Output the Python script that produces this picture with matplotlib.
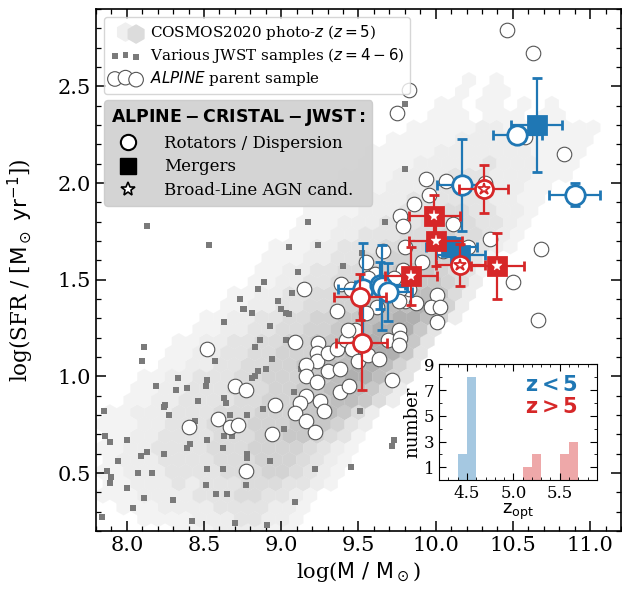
import numpy as np
import matplotlib.pyplot as plt
from matplotlib.lines import Line2D
from matplotlib.ticker import MultipleLocator

plt.rcParams['font.family'] = 'DejaVu Serif'
plt.rcParams['mathtext.fontset'] = 'dejavusans'

# COSMOS2020 density, one entry per half-row of the hex lattice:
# (row, first column, grey level of each cell; 0 = empty)
hex_rows = [
    (0, 6, '111222211'),
    (1, 3, '111122233221'),
    (2, 2, '11122223333221'),
    (3, 0, '1112222333443321'),
    (4, 1, '11222323334443321'),
    (5, 0, '112223333444554321'),
    (6, 1, '122233334445554321'),
    (7, 0, '1122333344455554321'),
    (8, 1, '1122333344455665431'),
    (9, 0, '11122333444555666532'),
    (10, 1, '11222333444555667642'),
    (11, 2, '11223333445556677642'),
    (12, 3, '11223334445566777642'),
    (13, 3, '11223334455566788753'),
    (14, 5, '1122334455667788753'),
    (15, 5, '1122334455566788863'),
    (16, 6, '1122334455667788863'),
    (17, 7, '112233445566788863'),
    (18, 8, '1122334455667788752'),
    (19, 9, '112233445566778752'),
    (20, 10, '112233445566777642'),
    (21, 11, '11223344556666542'),
    (22, 12, '11223344556665431'),
    (23, 12, '11122334455555431'),
    (24, 13, '111223334455554321'),
    (25, 14, '11122333444544321'),
    (26, 15, '11122233344443321'),
    (27, 15, '11112223334433221'),
    (28, 16, '11112223333332211'),
    (29, 17, '1111222333322211'),
    (30, 18, '11112222333222111'),
    (31, 19, '1111222223222111'),
    (32, 20, '1111122222221111'),
    (33, 21, '111112222111111'),
    (34, 23, '11111221101111'),
    (35, 24, '1110111011'),
    (36, 25, '110110101'),
    (37, 26, '1011'),
    (38, 27, '101'),
]

# various JWST samples (z = 4-6)
jwst_mass = [9.11, 9.40, 8.89, 8.85, 9.07, 8.73, 8.98, 8.75, 8.76, 9.00, 9.03, 9.05,
             8.81, 8.63, 8.93, 8.86, 8.83, 9.03, 8.11, 8.10, 8.57, 8.94, 8.90, 8.85,
             8.83, 8.81, 8.33, 8.52, 8.51, 8.19, 8.32, 8.39, 8.71, 8.63, 8.46, 8.64,
             9.08, 9.13, 8.25, 8.24, 8.88, 8.78, 8.67, 8.44, 8.27, 9.02, 7.85, 8.68,
             8.63, 8.41, 8.52, 8.00, 7.86, 7.89, 8.13, 8.24, 8.39, 8.09, 8.62, 8.78,
             8.78, 8.62, 8.52, 8.93, 7.94, 8.07, 8.16, 7.87, 7.90, 7.89, 8.00, 8.51,
             8.77, 8.58, 8.65, 8.11, 8.30, 8.04, 9.09, 9.22, 9.45, 9.72, 9.73, 9.51,
             8.70, 8.91, 8.42, 7.84, 8.13, 8.53, 9.17, 9.05, 9.24, 9.52, 9.67, 9.80,
             9.80]
jwst_sfr = [1.54, 1.57, 1.49, 1.45, 1.43, 1.40, 1.39, 1.35, 1.35, 1.35, 1.33, 1.32,
            1.33, 1.28, 1.26, 1.19, 1.15, 1.19, 1.15, 1.08, 1.08, 1.09, 1.04, 1.03,
            1.00, 0.99, 0.99, 0.98, 0.95, 0.95, 0.93, 0.94, 0.95, 0.89, 0.87, 0.86,
            0.92, 1.04, 0.85, 0.84, 0.83, 0.80, 0.80, 0.77, 0.80, 0.73, 0.82, 0.69,
            0.69, 0.65, 0.67, 0.67, 0.69, 0.66, 0.61, 0.60, 0.63, 0.59, 0.63, 0.60,
            0.58, 0.52, 0.52, 0.56, 0.56, 0.50, 0.50, 0.51, 0.48, 0.45, 0.42, 0.44,
            0.44, 0.39, 0.39, 0.37, 0.36, 0.32, 0.35, 0.52, 0.53, 0.64, 0.67, 0.82,
            0.24, 0.23, 0.25, 0.27, 1.78, 1.68, 1.80, 1.67, 1.68, 1.64, 1.80, 2.07,
            2.41]

# ALPINE parent sample
alpine_mass = [9.15, 8.52, 9.09, 9.24, 9.23, 9.23, 9.30, 9.36, 9.16, 9.30, 9.38, 9.16,
               9.23, 9.16, 9.25, 9.12, 9.09, 9.28, 9.16, 9.22, 9.38, 9.44, 8.96, 8.94,
               8.77, 8.70, 8.77, 8.59, 8.67, 8.72, 8.40, 9.36, 9.39, 9.55, 9.61, 9.62,
               9.48, 9.42, 9.46, 9.50, 9.56, 9.63, 9.69, 9.76, 9.77, 9.76, 9.72, 9.80,
               9.83, 9.77, 9.79, 9.66, 9.55, 9.75, 9.94, 10.07, 9.96, 9.86, 9.77, 9.79,
               10.11, 9.80, 9.91, 10.35, 10.68, 10.50, 10.66, 10.83, 10.58, 10.32, 9.45,
               9.76, 9.87, 10.01, 9.97, 10.03, 10.01, 9.43, 9.56, 9.73, 10.21, 10.05,
               10.46, 10.63, 9.83]
alpine_sfr = [1.45, 1.14, 1.18, 1.17, 1.12, 1.08, 1.12, 1.14, 1.06, 1.03, 1.04, 1.00,
              0.97, 0.90, 0.87, 0.86, 0.81, 0.82, 0.77, 0.71, 0.92, 0.95, 0.85, 0.70,
              0.51, 0.95, 0.93, 0.78, 0.74, 0.75, 0.74, 1.34, 1.48, 1.59, 1.53, 1.36,
              1.24, 1.19, 1.14, 1.08, 1.11, 1.09, 1.19, 1.24, 1.20, 1.16, 0.98, 1.39,
              1.45, 1.45, 1.55, 1.65, 1.33, 2.36, 2.02, 2.01, 1.94, 1.89, 1.83, 1.78,
              1.79, 1.67, 1.59, 1.71, 1.66, 1.49, 1.29, 2.15, 2.24, 2.00, 1.45,
              1.39, 1.38, 1.42, 1.36, 1.36, 1.28, 1.24, 1.51, 1.51, 1.67, 1.65,
              2.79, 2.67, 2.48]

# ALPINE-CRISTAL-JWST, z < 5
lo_rot_mass = [10.53, 10.90, 10.17, 9.53, 9.64, 9.655, 9.69]
lo_rot_sfr = [2.25, 1.94, 1.99, 1.45, 1.47, 1.46, 1.435]
lo_rot_xerr = [0.16, 0.165, 0.16, 0.16, 0.16, 0.16, 0.16]
lo_rot_yerr = [0.03, 0.06, 0.24, 0.24, 0.12, 0.22, 0.15]
lo_mer_mass = [10.655, 10.10, 10.16]
lo_mer_sfr = [2.30, 1.67, 1.63]
lo_mer_xerr = [0.165, 0.165, 0.16]
lo_mer_yerr = [0.245, 0.05, 0.05]

# ALPINE-CRISTAL-JWST, z > 5
hi_rot_mass = [9.51, 9.52, 10.31, 10.16]
hi_rot_sfr = [1.41, 1.17, 1.97, 1.575]
hi_rot_xerr = [0.17, 0.165, 0.16, 0.16]
hi_rot_yerr = [0.12, 0.24, 0.125, 0.11]
hi_rot_agn = [False, False, True, True]
hi_mer_mass = [9.99, 10.0, 9.84, 10.40]
hi_mer_sfr = [1.83, 1.70, 1.52, 1.57]
hi_mer_xerr = [0.165, 0.17, 0.17, 0.17]
hi_mer_yerr = [0.11, 0.13, 0.15, 0.17]

# z_opt histogram (bin left edges and counts)
zlo_bins = [4.4, 4.5]
zlo_counts = [2, 8]
zhi_bins = [5.1, 5.2, 5.5, 5.6]
zhi_counts = [1, 2, 2, 3]

blue = '#1f77b4'
red = '#d62728'

fig = plt.figure(figsize=(6.22, 6.08), dpi=100)
ax = fig.add_axes([0.1543, 0.1266, 0.844, 0.8586])

# hexbin background
nx, ny = 38, 22
xlo, xhi, ylo, yhi = 7.8, 11.2, 0.2, 2.9
sx = (xhi - xlo) / nx
sy = (yhi - ylo) / ny
hx, hy, hc = [], [], []
for r, start, levels in hex_rows:
    for k, ch in enumerate(levels):
        if ch != '0':
            hx.append(xlo + (start + k + 0.5 * (r % 2)) * sx)
            hy.append(ylo + r * sy / 2)
            hc.append(int(ch))
ax.hexbin(hx, hy, C=hc, gridsize=(nx, ny), extent=(xlo, xhi, ylo, yhi),
          reduce_C_function=np.max, cmap='Greys', vmin=-1.2, vmax=21,
          linewidths=0.2, edgecolors='face', zorder=1)

hex_proxy = ax.scatter([0, 0, 0], [0, 0, 0], marker='h', s=170,
                       color=['white', '#efefef', '#dcdcdc'])
jw = ax.scatter(jwst_mass, jwst_sfr, marker='s', s=16, color='#7a7a7a', lw=0, zorder=2)
al = ax.scatter(alpine_mass, alpine_sfr, marker='o', s=110, facecolor='white',
                edgecolor='#555555', lw=0.8, zorder=3)

eb = dict(ls='', mew=2, elinewidth=1.6, capsize=3.5, capthick=1.6)
ax.errorbar(lo_rot_mass, lo_rot_sfr, xerr=lo_rot_xerr, yerr=lo_rot_yerr, fmt='o',
            ms=14, mfc='white', mec=blue, ecolor=blue, zorder=5, **eb)
ax.errorbar(lo_mer_mass, lo_mer_sfr, xerr=lo_mer_xerr, yerr=lo_mer_yerr, fmt='s',
            ms=13, mfc=blue, mec=blue, ecolor=blue, zorder=5, **eb)
ax.errorbar(hi_rot_mass, hi_rot_sfr, xerr=hi_rot_xerr, yerr=hi_rot_yerr, fmt='o',
            ms=13, mfc='white', mec=red, ecolor=red, zorder=6, **eb)
ax.errorbar(hi_mer_mass, hi_mer_sfr, xerr=hi_mer_xerr, yerr=hi_mer_yerr, fmt='s',
            ms=13, mfc=red, mec=red, ecolor=red, zorder=6, **eb)
agn_x = [m for m, a in zip(hi_rot_mass, hi_rot_agn) if a]
agn_y = [s for s, a in zip(hi_rot_sfr, hi_rot_agn) if a]
ax.plot(agn_x, agn_y, ls='', marker='*', ms=9, mfc='white', mec=red, mew=1.3, zorder=7)
ax.plot(hi_mer_mass, hi_mer_sfr, ls='', marker='*', ms=8, mfc='white', mec='white',
        mew=0.3, zorder=7)

ax.set_xlim(xlo, xhi)
ax.set_ylim(ylo, yhi)
ax.xaxis.set_major_locator(MultipleLocator(0.5))
ax.xaxis.set_minor_locator(MultipleLocator(0.1))
ax.yaxis.set_major_locator(MultipleLocator(0.5))
ax.yaxis.set_minor_locator(MultipleLocator(0.1))
ax.tick_params(which='both', direction='in', top=True, right=True, labelsize=15)
ax.tick_params(which='major', length=7, width=1.1)
ax.tick_params(which='minor', length=3.5, width=0.9)
for s in ax.spines.values():
    s.set_linewidth(1.2)
ax.set_xlabel(r'log(${\rm M\ /\ M_\odot}$)', fontsize=15)
ax.set_ylabel(r'log(SFR / [${\rm M_\odot\ yr^{-1}}$])', fontsize=15.5)
ax.yaxis.set_label_coords(-0.115, 0.5)

leg1 = ax.legend([hex_proxy, jw, al],
                 [r'COSMOS2020 photo-$z$ ($z=5$)', r'Various JWST samples ($z=4-6$)',
                  r'$\it{ALPINE}$ parent sample'],
                 loc='upper left', fontsize=10.9, scatterpoints=3, handletextpad=0.6,
                 labelspacing=0.25, borderaxespad=0.55)
leg1.set_zorder(10)
ax.add_artist(leg1)

h2 = [Line2D([], [], ls='', marker='o', ms=11, mfc='white', mec='black', mew=1.5),
      Line2D([], [], ls='', marker='s', ms=11, mfc='black', mec='black'),
      Line2D([], [], ls='', marker='*', ms=10, mfc='white', mec='black', mew=1.2)]
leg2 = ax.legend(h2, ['Rotators / Dispersion', 'Mergers', 'Broad-Line AGN cand.'],
                 loc='upper left', bbox_to_anchor=(0.016, 0.825), borderaxespad=0,
                 fontsize=12, title=r'$\bf{ALPINE-CRISTAL-JWST:}$',
                 title_fontsize=12.5, alignment='left', facecolor='#d2d2d2',
                 framealpha=0.95, handletextpad=1.2, labelspacing=0.4)
leg2.set_zorder(10)

# inset histogram of z_opt
ins = fig.add_axes([0.706, 0.2105, 0.2535, 0.190])
ins.bar(zlo_bins, zlo_counts, width=0.1, align='edge', color=blue, alpha=0.4)
ins.bar(zhi_bins, zhi_counts, width=0.1, align='edge', color=red, alpha=0.4)
ins.set_xlim(4.2, 5.9)
ins.set_ylim(0, 9)
ins.set_yticks([1, 3, 5, 7, 9])
ins.yaxis.set_minor_locator(MultipleLocator(1))
ins.xaxis.set_major_locator(MultipleLocator(0.5))
ins.xaxis.set_minor_locator(MultipleLocator(0.1))
ins.tick_params(which='both', direction='in', top=True, right=True, labelsize=12)
ins.tick_params(which='major', length=5)
ins.tick_params(which='minor', length=2.5)
ins.set_xlabel(r'$\rm z_{opt}$', fontsize=13, labelpad=0)
ins.set_ylabel('number', fontsize=13, labelpad=2)
ins.text(0.88, 0.82, r'$\bf{z < 5}$', color=blue, fontsize=15, ha='right', va='center',
         transform=ins.transAxes)
ins.text(0.88, 0.63, r'$\bf{z > 5}$', color=red, fontsize=15, ha='right', va='center',
         transform=ins.transAxes)

fig.savefig('out.png', dpi=100)
